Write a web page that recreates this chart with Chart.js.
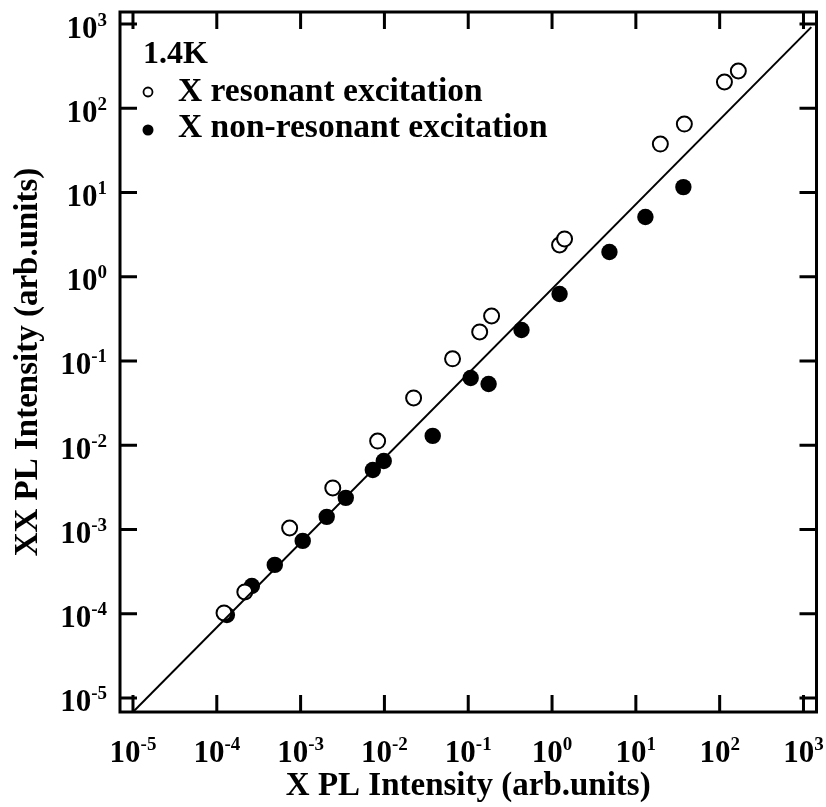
<!DOCTYPE html>
<html>
<head>
<meta charset="utf-8">
<title>XX PL vs X PL intensity</title>
<script src="https://cdn.jsdelivr.net/npm/chart.js@4.4.1/dist/chart.umd.min.js"></script>
<style>
  html, body { margin: 0; padding: 0; background: #fff; }
  canvas { display: block; }
</style>
</head>
<body>
<canvas id="plChart" width="826" height="807"></canvas>
<script>
// X resonant excitation (open circles)
const resX = [1.22e-4, 2.16e-4, 7.4e-4, 2.42e-3, 8.3e-3, 2.23e-2, 6.5e-2, 0.137, 0.19, 1.23, 1.41, 19.6, 37.9, 114, 167];
const resY = [1.02e-4, 1.81e-4, 1.04e-3, 3.11e-3, 1.12e-2, 3.64e-2, 0.106, 0.221, 0.342, 2.38, 2.81, 37.6, 65, 205, 277];

// X non-resonant excitation (filled circles)
const nonresX = [1.32e-4, 2.62e-4, 4.92e-4, 1.06e-3, 2.05e-3, 3.46e-3, 7.27e-3, 9.82e-3, 3.77e-2, 0.107, 0.175, 0.432, 1.23, 4.84, 13.0, 36.9];
const nonresY = [9.66e-5, 2.13e-4, 3.79e-4, 7.31e-4, 1.41e-3, 2.37e-3, 5.08e-3, 6.5e-3, 1.29e-2, 6.28e-2, 5.33e-2, 0.233, 0.624, 1.97, 5.12, 11.6];

// guide line
const fitX = [1e-5, 1240];
const fitY = [6.8e-6, 920];

// decades with ticks and labels
const tickExps = [-5, -4, -3, -2, -1, 0, 1, 2, 3];
const xRange = [7.0e-6, 1430];
const yRange = [6.8e-6, 1390];

const legendTitle = '1.4K';
const legendLabels = ['X resonant excitation', 'X non-resonant excitation'];
const xTitle = 'X PL Intensity (arb.units)';
const yTitle = 'XX PL Intensity (arb.units)';

const SERIF = '"Liberation Serif", "Times New Roman", serif';

function toPoints(xs, ys) {
	return xs.map((x, i) => ({ x: x, y: ys[i] }));
}

function drawPow(ctx, exp, x, y, align) {
	ctx.font = 'bold 31px ' + SERIF;
	const wBase = ctx.measureText('10').width;
	ctx.font = 'bold 19px ' + SERIF;
	const expStr = String(exp);
	const wExp = ctx.measureText(expStr).width;
	const total = wBase + wExp;
	const x0 = align === 'right' ? x - total : x - total / 2;
	ctx.textAlign = 'left';
	ctx.textBaseline = 'alphabetic';
	ctx.font = 'bold 31px ' + SERIF;
	ctx.fillText('10', x0, y);
	ctx.font = 'bold 19px ' + SERIF;
	ctx.fillText(expStr, x0 + wBase, y - 12);
}

const framePlugin = {
	id: 'frame',
	beforeDraw(chart) {
		const ctx = chart.ctx;
		ctx.save();
		ctx.fillStyle = '#fff';
		ctx.fillRect(0, 0, chart.width, chart.height);
		ctx.restore();
	},
	afterDatasetsDraw(chart) {
		const ctx = chart.ctx;
		const a = chart.chartArea;
		const xs = chart.scales.x;
		const ys = chart.scales.y;
		const len = 17;
		ctx.save();
		ctx.strokeStyle = '#000';
		ctx.fillStyle = '#000';
		ctx.lineWidth = 3;
		ctx.strokeRect(a.left, a.top, a.right - a.left, a.bottom - a.top);

		ctx.beginPath();
		tickExps.forEach(e => {
			const px = xs.getPixelForValue(Math.pow(10, e));
			ctx.moveTo(px, a.bottom); ctx.lineTo(px, a.bottom - len);
			ctx.moveTo(px, a.top); ctx.lineTo(px, a.top + len);
			const py = ys.getPixelForValue(Math.pow(10, e));
			ctx.moveTo(a.left, py); ctx.lineTo(a.left + len, py);
			ctx.moveTo(a.right, py); ctx.lineTo(a.right - len, py);
		});
		ctx.stroke();

		// tick labels
		tickExps.forEach(e => {
			const px = xs.getPixelForValue(Math.pow(10, e));
			drawPow(ctx, e, px, a.bottom + 50, 'center');
			const py = ys.getPixelForValue(Math.pow(10, e));
			drawPow(ctx, e, a.left - 13, py + 13.5, 'right');
		});

		// axis titles
		ctx.font = 'bold 33px ' + SERIF;
		ctx.textAlign = 'center';
		ctx.textBaseline = 'alphabetic';
		ctx.fillText(xTitle, (a.left + a.right) / 2, 795);
		ctx.save();
		ctx.translate(37, (a.top + a.bottom) / 2);
		ctx.rotate(-Math.PI / 2);
		ctx.fillText(yTitle, 0, 0);
		ctx.restore();

		// legend
		ctx.textAlign = 'left';
		ctx.font = 'bold 32px ' + SERIF;
		ctx.fillText(legendTitle, 143, 63);
		ctx.font = 'bold 33.5px ' + SERIF;
		ctx.fillText(legendLabels[0], 178, 101);
		ctx.fillText(legendLabels[1], 178, 137);
		ctx.lineWidth = 1.8;
		ctx.beginPath();
		ctx.arc(148, 92, 4.5, 0, Math.PI * 2);
		ctx.stroke();
		ctx.beginPath();
		ctx.arc(148, 130, 5.5, 0, Math.PI * 2);
		ctx.fill();
		ctx.restore();
	}
};

new Chart(document.getElementById('plChart'), {
	type: 'scatter',
	data: {
		datasets: [
			{
				label: 'fit',
				data: toPoints(fitX, fitY),
				showLine: true,
				borderColor: '#000',
				borderWidth: 2,
				pointRadius: 0
			},
			{
				label: legendLabels[0],
				data: toPoints(resX, resY),
				pointStyle: 'circle',
				pointRadius: 7.5,
				borderWidth: 2,
				borderColor: '#000',
				backgroundColor: '#fff'
			},
			{
				label: legendLabels[1],
				data: toPoints(nonresX, nonresY),
				pointStyle: 'circle',
				pointRadius: 8.2,
				borderWidth: 0,
				borderColor: '#000',
				backgroundColor: '#000'
			}
		]
	},
	options: {
		responsive: false,
		animation: false,
		layout: { padding: { left: 120, top: 12, right: 9, bottom: 95 } },
		plugins: { legend: { display: false }, tooltip: { enabled: false } },
		scales: {
			x: { type: 'logarithmic', min: xRange[0], max: xRange[1], display: false },
			y: { type: 'logarithmic', min: yRange[0], max: yRange[1], display: false }
		}
	},
	plugins: [framePlugin]
});
</script>
</body>
</html>
